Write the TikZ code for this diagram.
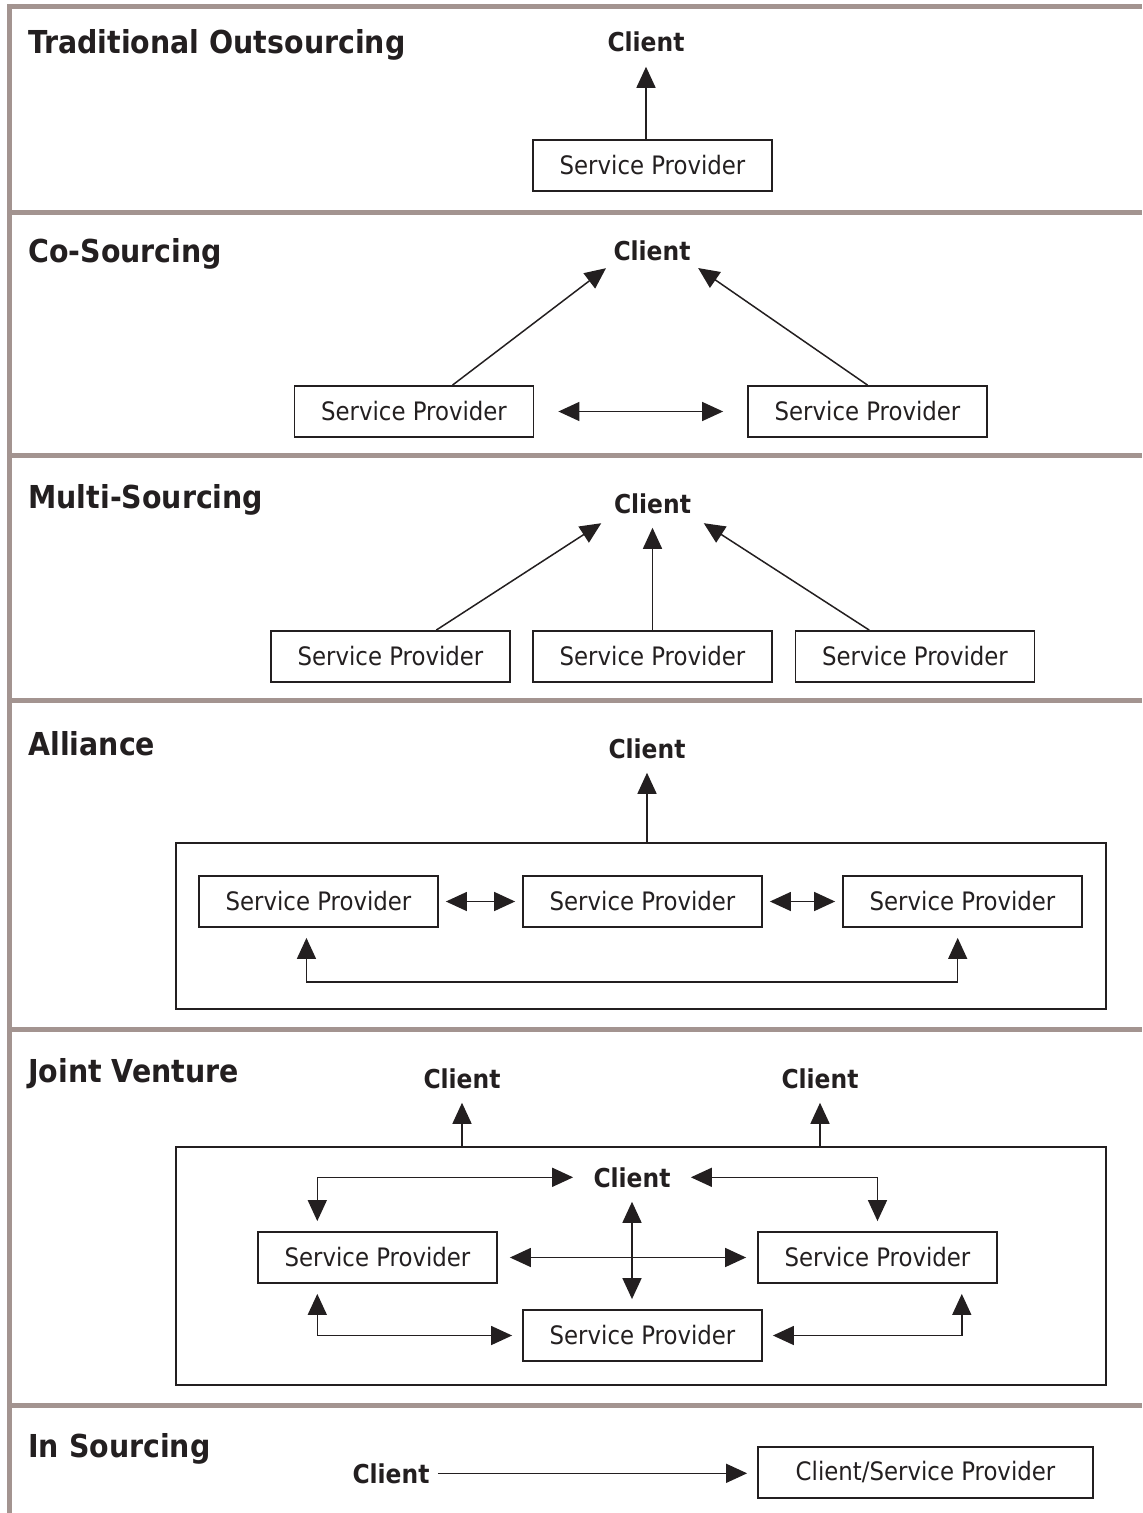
\documentclass[tikz,border=0pt]{standalone}
\usepackage{fontspec}
\setmainfont{DejaVu Sans Condensed}
\usetikzlibrary{arrows.meta,calc}
\definecolor{sepgray}{RGB}{163,148,144}
\definecolor{ink}{RGB}{35,31,32}

\begin{document}
\begin{tikzpicture}[x=0.5pt,y=-0.5pt]
   \tikzstyle{every node}=[text=ink]
   \tikzstyle{title}=[anchor=base west, inner sep=0pt, font=\fontsize{15.8}{18}\selectfont\bfseries]
   \tikzstyle{client}=[anchor=base, inner sep=2pt, font=\fontsize{13}{15}\selectfont\bfseries]
   \tikzstyle{sp}=[draw=ink, line width=0.9pt, minimum width=119.5pt, minimum height=25.5pt, inner sep=0pt, font=\fontsize{12.7}{15}\selectfont]
   \tikzstyle{frame}=[draw=ink, line width=0.9pt, minimum width=465pt, inner sep=0pt]
   \tikzstyle{sep}=[draw=sepgray, line width=2.5pt]
   \tikzstyle{arr}=[draw=ink, line width=0.75pt, -{Triangle[length=10.5pt,width=9.5pt]}, shorten >=5pt]
   \tikzstyle{darr}=[draw=ink, line width=0.75pt, {Triangle[length=10.5pt,width=9.5pt]}-{Triangle[length=10.5pt,width=9.5pt]}, shorten >=5pt, shorten <=5pt]

\useasboundingbox (0,0) rectangle (1142,1513);

% grey section rules
\draw[sep] (9.5,1513) -- (9.5,7) -- (1142,7);
\foreach \y in {212.5,455.5,700.5,1029.5,1405}
    \draw[sep] (9.5,\y) -- (1142,\y);

% Traditional Outsourcing
\node[title] (t1) at (28,54) {Traditional Outsourcing};
\node[client] (c1) at (646,52) {Client};
\node[sp] (sp1) at (652.5,165.5) {Service Provider};
\draw[arr] (c1.south |- sp1.north) -- (c1.south);

% Co-Sourcing
\node[title] (t2) at (28,263) {Co-Sourcing};
\node[client] (c2) at (652,261) {Client};
\node[sp] (sp2a) at (414,411.5) {Service Provider};
\node[sp] (sp2b) at (867.5,411.5) {Service Provider};
\draw[arr, shorten >=2pt] ($(sp2a.north west)!.66!(sp2a.north east)$) -- (c2.south west);
\draw[arr, shorten >=2pt] (sp2b.north) -- (c2.south east);
\draw[darr, shorten >=12pt, shorten <=12pt] (sp2a) -- (sp2b);

% Multi-Sourcing
\node[title] (t3) at (28,508) {Multi-Sourcing};
\node[client] (c3) at (652.5,513) {Client};
\node[sp] (sp3a) at (390.5,656.5) {Service Provider};
\node[sp] (sp3b) at (652.5,656.5) {Service Provider};
\node[sp] (sp3c) at (915,656.5) {Service Provider};
\draw[arr] ($(sp3a.north west)!.69!(sp3a.north east)$) -- (c3.south west);
\draw[arr] (sp3b.north) -- (c3.south |- c3.south west);
\draw[arr] ($(sp3c.north west)!.31!(sp3c.north east)$) -- (c3.south east);

% Alliance
\node[title] (t4) at (28,755) {Alliance};
\node[client] (c4) at (647,758) {Client};
\node[frame, minimum height=83pt] (al) at (641,926) {};
\node[sp] (sp4a) at (318.5,901.5) {Service Provider};
\node[sp] (sp4b) at (642.5,901.5) {Service Provider};
\node[sp] (sp4c) at (962.5,901.5) {Service Provider};
\draw[arr] (c4.south |- al.north) -- (c4.south);
\draw[darr, shorten >=3.5pt, shorten <=3.5pt] (sp4a) -- (sp4b);
\draw[darr, shorten >=3.5pt, shorten <=3.5pt] (sp4b) -- (sp4c);
\coordinate (albot) at (641,982);
\coordinate (la) at ($(sp4a.south west)!.45!(sp4a.south east)$);
\coordinate (lc) at ($(sp4c.south west)!.48!(sp4c.south east)$);
\draw[darr] (la) -- (la |- albot) -- (lc |- albot) -- (lc);

% Joint Venture
\node[title] (t5) at (28,1082) {Joint Venture};
\node[client] (c5a) at (462,1088) {Client};
\node[client] (c5b) at (820,1088) {Client};
\node[frame, minimum height=119pt] (jv) at (641,1266) {};
\node[client] (c5c) at (632,1187) {Client};
\node[sp] (sp5a) at (377.5,1257.5) {Service Provider};
\node[sp] (sp5b) at (877.5,1257.5) {Service Provider};
\node[sp] (sp5c) at (642.5,1335.5) {Service Provider};
\draw[arr] (c5a.south |- jv.north) -- (c5a.south);
\draw[arr] (c5b.south |- jv.north) -- (c5b.south);
\draw[darr, shorten <=8pt] (c5c.west) -| ($(sp5a.north west)!.25!(sp5a.north east)$);
\draw[darr, shorten <=8pt] (c5c.east) -| (sp5b.north);
\draw[darr, shorten >=5.5pt, shorten <=6pt] (sp5a) -- (sp5b);
\draw[darr] (c5c.south) -- (c5c.south |- sp5c.north);
\draw[darr] ($(sp5a.south west)!.25!(sp5a.south east)$) |- (sp5c.west);
\draw[darr] ($(sp5b.south west)!.85!(sp5b.south east)$) |- (sp5c.east);

% In Sourcing
\node[title] (t6) at (28,1457) {In Sourcing};
\node[client] (c6) at (391,1483) {Client};
\node[sp, minimum width=167.5pt] (sp6) at (925.5,1472.5) {Client/Service Provider};
\draw[arr, shorten <=2pt] (c6.east) -- (c6.east -| sp6.west);

\end{tikzpicture}
\end{document}
